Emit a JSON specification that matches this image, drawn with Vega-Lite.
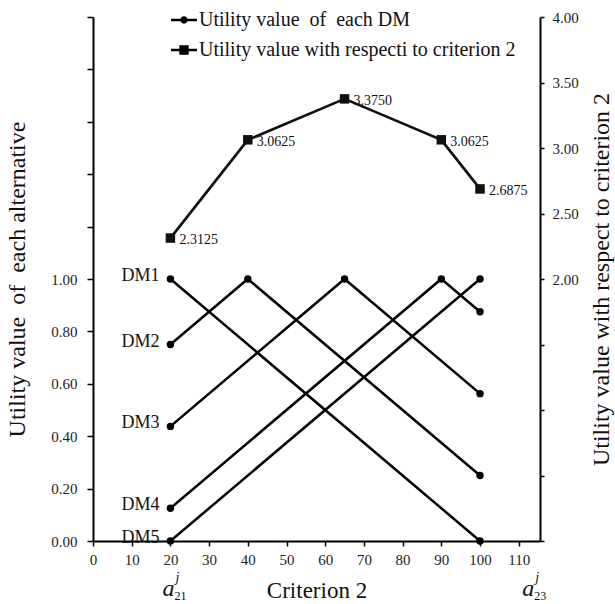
{
  "$schema": "https://vega.github.io/schema/vega-lite/v6.json",
  "width": 447,
  "height": 524,
  "autosize": {"type": "none"},
  "padding": {"left": 93, "top": 17, "right": 75, "bottom": 63},
  "background": "white",
  "config": {
    "view": {"stroke": null},
    "font": "Liberation Serif",
    "axis": {
      "grid": false,
      "domainColor": "black",
      "domainWidth": 2,
      "tickColor": "black",
      "tickWidth": 1.5,
      "labelFont": "Liberation Serif",
      "labelFontSize": 15,
      "labelColor": "#222",
      "titleFont": "Liberation Serif",
      "titleFontWeight": "normal",
      "titleColor": "#111",
      "labelFlush": false,
      "labelOverlap": false
    },
    "legend": {
      "orient": "none",
      "legendX": 78,
      "legendY": -10,
      "labelFont": "Liberation Serif",
      "labelFontSize": 20,
      "labelColor": "#111",
      "labelOffset": 2,
      "labelLimit": 0,
      "rowPadding": 7,
      "symbolSize": 676,
      "symbolOpacity": 1,
      "symbolFillColor": "black",
      "symbolStrokeWidth": 0
    }
  },
  "datasets": {
    "dm": [
      {"dm": "DM1", "x": 20, "y": 1},
      {"dm": "DM1", "x": 100, "y": 0},
      {"dm": "DM2", "x": 20, "y": 0.75},
      {"dm": "DM2", "x": 40, "y": 1},
      {"dm": "DM2", "x": 100, "y": 0.25},
      {"dm": "DM3", "x": 20, "y": 0.4375},
      {"dm": "DM3", "x": 65, "y": 1},
      {"dm": "DM3", "x": 100, "y": 0.5625},
      {"dm": "DM4", "x": 20, "y": 0.125},
      {"dm": "DM4", "x": 90, "y": 1},
      {"dm": "DM4", "x": 100, "y": 0.875},
      {"dm": "DM5", "x": 20, "y": 0},
      {"dm": "DM5", "x": 100, "y": 1}
    ],
    "total": [
      {"x": 20, "total": 2.3125},
      {"x": 40, "total": 3.0625},
      {"x": 65, "total": 3.375},
      {"x": 90, "total": 3.0625},
      {"x": 100, "total": 2.6875}
    ],
    "ends": [
      {"x": 20, "y": 0, "sub": "21"},
      {"x": 113, "y": 0, "sub": "23"}
    ]
  },
  "layer": [
    {
      "data": {"name": "dm"},
      "encoding": {
        "x": {
          "field": "x",
          "type": "quantitative",
          "scale": {"domain": [0, 115.5], "nice": false, "zero": false},
          "axis": {
            "values": [0, 10, 20, 30, 40, 50, 60, 70, 80, 90, 100, 110],
            "tickSize": 5,
            "labelPadding": 6,
            "title": "Criterion 2",
            "titleFontSize": 23,
            "titlePadding": 12
          }
        },
        "y": {
          "field": "y",
          "type": "quantitative",
          "scale": {"domain": [0, 2], "nice": false},
          "axis": {
            "values": [0, 0.2, 0.4, 0.6, 0.8, 1, 1.2, 1.4, 1.6, 1.8, 2],
            "labelExpr": "datum.value <= 1.001 ? format(datum.value, '.2f') : ''",
            "tickSize": 6,
            "labelPadding": 10,
            "title": "Utility value\u00a0 of\u00a0 each alternative",
            "titleFontSize": 24,
            "titlePadding": 21
          }
        }
      },
      "layer": [
        {
          "mark": {"type": "line", "color": "black", "strokeWidth": 2.5},
          "encoding": {"detail": {"field": "dm"}}
        },
        {
          "mark": {"type": "point", "shape": "circle", "filled": true, "color": "black", "opacity": 1, "size": 55}
        },
        {
          "transform": [{"filter": "datum.x == 20 && datum.dm == 'DM1'"}],
          "mark": {"type": "point", "filled": true, "color": "black", "opacity": 0, "size": 676},
          "encoding": {
            "shape": {
              "datum": "Utility value\u00a0 of\u00a0 each DM",
              "type": "nominal",
              "scale": {
                "domain": ["Utility value\u00a0 of\u00a0 each DM", "Utility value with respecti to criterion 2"],
                "range": [
                  "M-1,-0.1H1V0.1H-1Z M0.28,0A0.28,0.28 0 1,1 -0.28,0A0.28,0.28 0 1,1 0.28,0Z",
                  "M-1,-0.1H1V0.1H-1Z M-0.36,-0.36H0.36V0.36H-0.36Z"
                ]
              },
              "legend": {"title": null, "symbolOpacity": 1}
            }
          }
        },
        {
          "transform": [{"filter": "datum.x == 20"}],
          "mark": {"type": "text", "align": "right", "baseline": "middle", "dx": -11, "dy": -3, "fontSize": 18, "font": "Liberation Serif", "color": "#111"},
          "encoding": {"text": {"field": "dm"}}
        },
        {
          "data": {"name": "ends"},
          "mark": {"type": "text", "align": "right", "baseline": "middle", "dx": 4, "dy": 48, "fontSize": 24, "fontStyle": "italic", "font": "Liberation Serif", "color": "#111"},
          "encoding": {"text": {"value": "a"}}
        },
        {
          "data": {"name": "ends"},
          "mark": {"type": "text", "align": "left", "baseline": "middle", "dx": 5, "dy": 37, "fontSize": 14, "fontStyle": "italic", "font": "Liberation Serif", "color": "#111"},
          "encoding": {"text": {"value": "j"}}
        },
        {
          "data": {"name": "ends"},
          "mark": {"type": "text", "align": "left", "baseline": "middle", "dx": 4, "dy": 55, "fontSize": 12, "font": "Liberation Serif", "color": "#111"},
          "encoding": {"text": {"field": "sub"}}
        }
      ]
    },
    {
      "data": {"name": "total"},
      "encoding": {
        "x": {"field": "x", "type": "quantitative"},
        "y": {
          "field": "total",
          "type": "quantitative",
          "scale": {"domain": [0, 4], "nice": false},
          "axis": {
            "orient": "right",
            "values": [0, 0.5, 1, 1.5, 2, 2.5, 3, 3.5, 4],
            "labelExpr": "datum.value >= 1.999 ? format(datum.value, '.2f') : ''",
            "tickSize": 4,
            "labelPadding": 8,
            "title": "Utility value with respect to criterion 2",
            "titleFontSize": 24,
            "titleAngle": 270,
            "titleBaseline": "top",
            "titlePadding": 11
          }
        }
      },
      "layer": [
        {
          "mark": {"type": "line", "color": "#111", "strokeWidth": 2.7}
        },
        {
          "mark": {"type": "point", "shape": "square", "filled": true, "color": "#111", "opacity": 1, "size": 90}
        },
        {
          "transform": [{"filter": "datum.x == 20"}],
          "mark": {"type": "point", "filled": true, "color": "black", "opacity": 0, "size": 676},
          "encoding": {
            "shape": {"datum": "Utility value with respecti to criterion 2", "type": "nominal"}
          }
        },
        {
          "mark": {"type": "text", "align": "left", "baseline": "middle", "dx": 9, "dy": 2, "fontSize": 14, "font": "Liberation Serif", "color": "#111"},
          "encoding": {"text": {"field": "total", "type": "quantitative", "format": ".4f"}}
        }
      ]
    }
  ],
  "resolve": {"scale": {"y": "independent"}}
}
